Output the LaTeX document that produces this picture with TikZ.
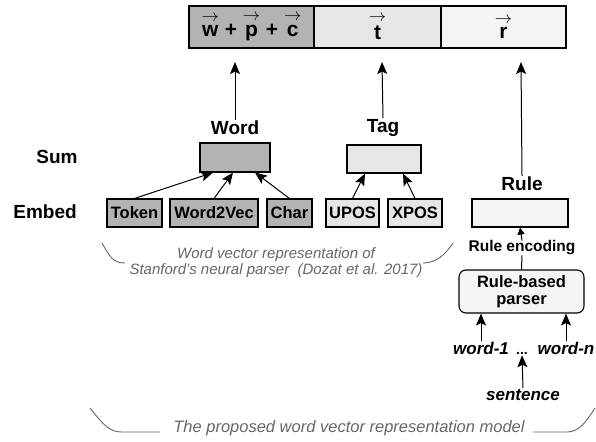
\documentclass[tikz,border=0pt]{standalone}
\usepackage{fontspec}
\setmainfont{Liberation Sans}
\usetikzlibrary{arrows.meta}
\definecolor{wordgray}{HTML}{B3B3B3}
\definecolor{taggray}{HTML}{E6E6E6}
\definecolor{rulegray}{HTML}{F4F4F4}
\definecolor{notegray}{HTML}{666666}
\newcommand{\vecarr}[1]{$\stackrel{\raisebox{2pt}{\fontsize{16}{16}\selectfont$\rightarrow$}}{\mbox{#1}}$}
\tikzset{
  lbl/.style={font=\fontsize{19}{21}\selectfont\bfseries, inner sep=1pt},
  box/.style={draw, line width=1.1pt, minimum height=28pt, inner sep=0pt,
    font=\fontsize{16.5}{18}\selectfont\bfseries},
  cell/.style={draw, line width=1.3pt, minimum height=42pt, minimum width=125pt,
    inner sep=0pt, font=\fontsize{21}{24}\selectfont\bfseries},
  arr/.style={line width=1pt, -{Stealth[length=12pt,width=10pt,inset=2.5pt]}},
  note/.style={color=notegray, font=\fontsize{15}{16}\selectfont\itshape, align=center, inner sep=0pt},
  brace/.style={color=notegray, line width=0.9pt},
  inword/.style={font=\fontsize{17}{18}\selectfont\bfseries\itshape, inner sep=1pt},
}
\begin{document}
\begin{tikzpicture}[x=1pt,y=-1pt]
  \useasboundingbox (0,0) rectangle (596,441);

  \node[cell, fill=wordgray] (wvec) at (251.5,27) {\vecarr{w} + \vecarr{p} + \vecarr{c}};
  \node[cell, fill=taggray, minimum width=127pt] (tvec) at (377.5,27) {\vecarr{t}};
  \node[cell, fill=rulegray] (rvec) at (503.5,27) {\vecarr{r}};

  \node[lbl] (sum) at (57,157) {Sum};
  \node[lbl] (embed) at (45,212) {Embed};

  \node[lbl] (word) at (235,128) {Word};
  \node[box, fill=wordgray, minimum width=70pt, minimum height=29pt] (wordsum) at (235,157.5) {};
  \node[box, fill=wordgray, minimum width=55pt] (token) at (134.5,213) {Token};
  \node[box, fill=wordgray, minimum width=88pt] (w2v) at (214,213) {Word2Vec};
  \node[box, fill=wordgray, minimum width=45pt] (char) at (289.5,213) {Char};

  \node[lbl] (tag) at (383,128) {Tag};
  \node[box, fill=taggray, minimum width=74pt] (tagsum) at (384,159) {};
  \node[box, fill=taggray, minimum width=53pt] (upos) at (352.5,213) {UPOS};
  \node[box, fill=taggray, minimum width=54pt] (xpos) at (415,213) {XPOS};

  \node[lbl] (rule) at (522,184) {Rule};
  \node[box, fill=rulegray, minimum width=96pt] (rulebox) at (520,213) {};
  \node[font=\fontsize{15.5}{17}\selectfont\bfseries, inner sep=0pt] (enc) at (522,248) {Rule encoding};
  \node[box, fill=rulegray, rounded corners=7pt, minimum width=125pt, minimum height=43pt,
    align=center, font=\fontsize{16.5}{17}\selectfont\bfseries] (parser) at (521.5,291.5) {Rule-based\\parser};

  \node[inword] (w1) at (481,348) {word-1};
  \node[inword] (wn) at (566,348) {word-n};
  \node[font=\fontsize{14}{16}\selectfont\bfseries, inner sep=1pt] (dots) at (522,353) {...};
  \node[inword] (sent) at (523,395) {sentence};

  \coordinate (wtip) at (235,62);
  \coordinate (ttip) at (382,62);
  \coordinate (rtip) at (521,62);
  \draw[arr] (word.north) -- (wtip);
  \draw[arr] (tag.north) -- (ttip);
  \draw[arr] (rule.north) -- (rtip);

  \draw[arr] (token.north) -- ([xshift=-22pt]wordsum.south);
  \draw[arr] (w2v.north) -- ([xshift=-2pt]wordsum.south);
  \draw[arr] (char.north) -- ([xshift=20pt]wordsum.south);
  \draw[arr] (upos.north) -- ([xshift=-19pt]tagsum.south);
  \draw[arr] (xpos.north) -- ([xshift=19pt]tagsum.south);

  \draw[line width=1pt, -{Triangle[length=7pt,width=7pt]}] (enc.north) -- (rulebox.south);
  \draw[line width=1pt] (parser.north) -- (enc.south);
  \draw[arr] (w1.north) -- (w1.north |- parser.south);
  \draw[arr] (wn.north) -- (wn.north |- parser.south);
  \draw[arr] (sent.north) -- (dots.south);

  \node[note] (stanford) at (276,263) {Word vector representation of\\Stanford's neural parser~~(Dozat et al. 2017)};
  \draw[brace] (102,243) .. controls (110,257) and (113,263) .. (125,263);
  \draw[brace] (423,263) .. controls (436,263) and (445,255) .. (453,243);

  \node[note, font=\fontsize{16.5}{18}\selectfont\itshape] (model) at (349,428) {The proposed word vector representation model};
  \draw[brace] (90,408) .. controls (104,426) and (110,432) .. (122,432) -- (160,432);
  \draw[brace] (533,432) -- (567,432) .. controls (579,432) and (586,422) .. (595,408);
\end{tikzpicture}
\end{document}
